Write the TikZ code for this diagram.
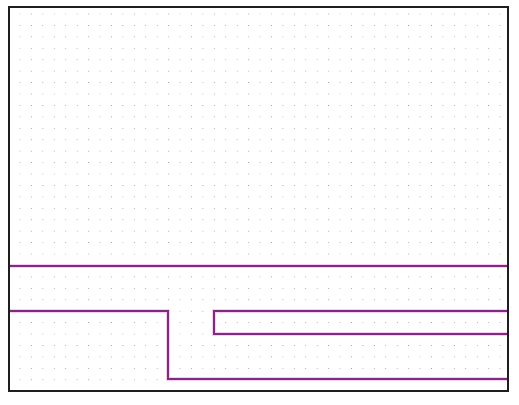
\documentclass[tikz,border=0pt]{standalone}
\definecolor{wire}{RGB}{125,45,125}
\definecolor{halo}{RGB}{250,205,245}
\definecolor{frame}{RGB}{30,30,30}
\tikzset{
  wirepath/.style={draw=wire, line width=1.3pt, preaction={draw=halo, line width=4pt}},
  dotmark/.style={fill=black!45},
}
\begin{document}
\begin{tikzpicture}[x=1pt,y=-1pt]
\useasboundingbox (0,0) rectangle (519,404);
\fill[white] (0,0) rectangle (519,404);
% dot grid
\foreach \i in {0,...,42}{
  \foreach \j in {0,...,32}{
    \fill[dotmark] ({20+\i*11.43},{14+\j*11.43}) circle (0.45);
  }
}
% wires
\coordinate (a1) at (9,266);
\coordinate (a2) at (508,266);
\draw[wirepath] (a1) -- (a2);
\coordinate (b1) at (10,311);
\coordinate (b2) at (168,311);
\coordinate (b3) at (168,379);
\coordinate (b4) at (507,379);
\draw[wirepath] (b1) -- (b2) -- (b3) -- (b4);
\coordinate (c1) at (507,311);
\coordinate (c2) at (214,311);
\coordinate (c3) at (214,334);
\coordinate (c4) at (507,334);
\draw[wirepath] (c1) -- (c2) -- (c3) -- (c4);
% frame
\draw[frame, line width=2.6pt] (9,7) rectangle (508,391);
\end{tikzpicture}
\end{document}
